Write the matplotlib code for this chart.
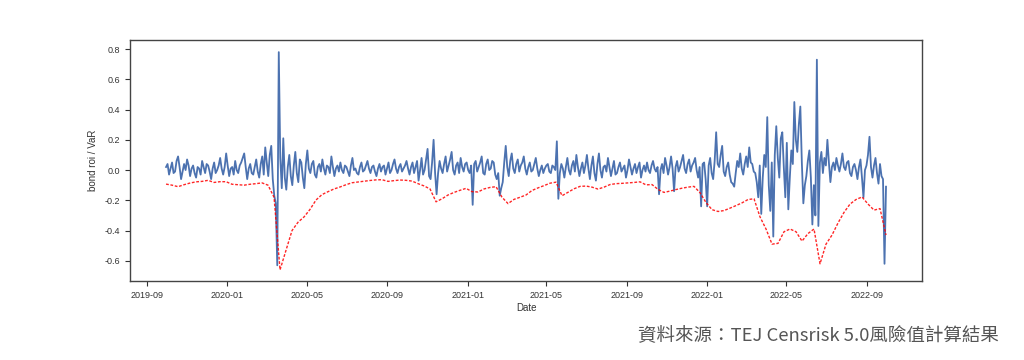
import pandas as pd
import matplotlib
matplotlib.use('Agg')
import matplotlib.pyplot as plt
import matplotlib.dates as mdates

startDate, endDate = '2019-09-30', '2022-09-30'

bondRoi = [
    0.02, 0.04, -0.03, 0.01, 0.05, -0.02, -0.01, 0.06, 0.09, 0.02, -0.06, -0.01, 0.04, 0.00, 0.07, 0.03, -0.04, 0.01, 0.03, -0.02,
    -0.05, 0.02, 0.01, -0.03, 0.06, 0.02, -0.02, 0.04, 0.03, -0.01, -0.06, 0.01, 0.05, -0.02, 0.00, 0.03, 0.08, 0.01, -0.03, 0.02,
    0.11, 0.03, -0.04, 0.01, 0.02, -0.03, 0.06, 0.00, -0.02, 0.03, 0.05, 0.08, 0.11, 0.02, -0.06, 0.01, 0.04, -0.02, -0.03, 0.02,
    0.07, -0.01, -0.05, 0.04, 0.09, -0.03, 0.15, 0.05, -0.04, 0.10, 0.16, -0.06, -0.17, -0.22, -0.63, 0.78, 0.08, -0.12, 0.21, -0.05,
    -0.13, 0.02, 0.10, -0.04, -0.10, 0.03, 0.12, -0.02, -0.08, 0.07, 0.05, -0.05, -0.12, 0.04, 0.13, 0.01, -0.02, 0.04, 0.06, -0.03,
    -0.05, 0.02, 0.04, -0.01, 0.07, 0.01, -0.03, 0.03, 0.02, -0.02, 0.09, 0.02, -0.04, 0.01, 0.03, -0.01, 0.05, 0.00, -0.02, 0.03,
    0.02, -0.01, -0.04, 0.03, 0.08, 0.00, 0.01, -0.02, -0.03, 0.02, 0.05, -0.01, 0.00, 0.03, 0.06, 0.01, -0.02, 0.02, 0.03, -0.01,
    -0.04, 0.01, 0.04, -0.01, 0.02, 0.03, -0.03, 0.01, 0.05, -0.02, 0.00, 0.04, 0.07, 0.01, -0.02, 0.02, 0.04, -0.01, 0.01, 0.03,
    0.06, 0.01, -0.03, 0.02, 0.05, -0.02, 0.02, 0.06, -0.07, 0.00, 0.08, -0.03, 0.00, 0.07, 0.14, -0.04, -0.06, 0.05, 0.20, -0.02,
    -0.16, -0.02, 0.06, 0.01, -0.02, 0.04, 0.09, -0.01, 0.03, 0.07, 0.12, 0.00, -0.03, 0.03, 0.05, -0.02, 0.08, 0.02, -0.01, 0.04,
    0.05, 0.00, -0.02, 0.03, -0.23, 0.04, 0.06, -0.01, 0.02, 0.05, 0.09, -0.02, -0.03, 0.04, 0.07, 0.00, 0.01, 0.06, 0.05, -0.03,
    -0.06, -0.02, -0.17, -0.12, -0.08, 0.05, 0.16, 0.02, -0.04, 0.06, 0.11, 0.01, -0.02, 0.04, 0.07, -0.01, 0.03, 0.05, 0.09, 0.01,
    -0.03, 0.02, 0.05, -0.01, 0.00, 0.04, 0.08, 0.01, -0.04, 0.00, 0.03, -0.02, 0.01, 0.03, 0.04, -0.01, -0.02, 0.03, 0.02, 0.00,
    0.19, -0.19, -0.02, 0.04, 0.01, -0.05, 0.02, 0.08, 0.00, -0.03, 0.03, 0.06, -0.01, 0.10, 0.02, -0.04, 0.01, 0.05, -0.02, 0.03,
    0.10, 0.01, -0.06, 0.03, 0.09, -0.02, -0.07, 0.04, 0.11, 0.00, -0.05, 0.02, 0.03, -0.01, 0.08, 0.02, -0.04, 0.01, 0.06, -0.03,
    -0.02, 0.02, 0.05, -0.01, 0.01, 0.03, -0.05, 0.00, 0.07, 0.02, -0.03, 0.01, 0.04, -0.02, 0.02, 0.05, -0.05, 0.00, 0.03, -0.01,
    0.05, 0.00, -0.02, 0.03, 0.06, 0.01, -0.01, 0.02, -0.16, 0.00, 0.04, -0.02, 0.08, 0.03, -0.03, 0.02, 0.09, 0.01, -0.14, 0.02,
    0.06, -0.01, 0.02, 0.06, 0.10, 0.01, -0.02, 0.04, 0.07, -0.01, 0.03, 0.05, 0.08, 0.00, -0.05, 0.02, -0.24, 0.04, 0.05, -0.06,
    -0.24, 0.03, 0.08, -0.02, -0.06, 0.06, 0.25, 0.04, 0.02, 0.10, 0.16, -0.01, -0.04, 0.02, 0.05, -0.03, -0.08, -0.09, -0.11, -0.02,
    0.06, 0.02, 0.11, 0.01, -0.03, 0.04, 0.09, 0.02, 0.15, 0.05, 0.04, -0.01, -0.02, -0.08, -0.18, 0.03, -0.29, -0.05, 0.10, 0.02,
    0.35, -0.10, -0.27, 0.05, -0.44, 0.10, 0.29, 0.08, -0.05, 0.21, 0.25, 0.02, -0.18, 0.18, -0.26, -0.05, 0.13, 0.04, 0.45, 0.20,
    0.12, 0.30, 0.42, 0.05, -0.22, -0.10, -0.04, 0.06, 0.13, -0.05, -0.36, -0.10, -0.30, 0.73, -0.37, 0.05, 0.12, -0.02, 0.08, 0.03,
    0.20, 0.05, -0.08, 0.02, 0.05, 0.00, 0.08, 0.03, -0.01, 0.04, 0.11, 0.02, 0.00, 0.05, 0.06, -0.02, -0.04, 0.02, 0.04, 0.00,
    -0.06, 0.02, 0.07, -0.05, -0.18, 0.00, 0.03, 0.10, 0.22, 0.02, -0.05, 0.03, 0.08, -0.02, -0.09, 0.04, -0.04, -0.06, -0.62, -0.11,
]

varValues = [
    -0.093, -0.100, -0.110, -0.097, -0.086, -0.078, -0.075, -0.068, -0.082, -0.077,
    -0.077, -0.094, -0.097, -0.100, -0.094, -0.090, -0.085, -0.100, -0.180, -0.660,
    -0.530, -0.400, -0.345, -0.310, -0.260, -0.198, -0.162, -0.143, -0.125, -0.112,
    -0.097, -0.084, -0.079, -0.074, -0.069, -0.065, -0.064, -0.075, -0.070, -0.066,
    -0.068, -0.073, -0.090, -0.105, -0.125, -0.210, -0.190, -0.165, -0.148, -0.134,
    -0.121, -0.143, -0.145, -0.125, -0.115, -0.110, -0.180, -0.222, -0.194, -0.180,
    -0.165, -0.135, -0.118, -0.103, -0.087, -0.080, -0.170, -0.147, -0.124, -0.108,
    -0.106, -0.113, -0.126, -0.113, -0.096, -0.090, -0.088, -0.085, -0.082, -0.078,
    -0.098, -0.096, -0.128, -0.148, -0.139, -0.129, -0.120, -0.113, -0.108, -0.150,
    -0.215, -0.262, -0.274, -0.268, -0.252, -0.235, -0.217, -0.195, -0.190, -0.310,
    -0.390, -0.490, -0.485, -0.408, -0.390, -0.408, -0.470, -0.420, -0.390, -0.620,
    -0.490, -0.430, -0.350, -0.280, -0.225, -0.195, -0.178, -0.225, -0.265, -0.255,
    -0.430,
]

roiDates = pd.date_range(startDate, endDate, periods=len(bondRoi))
varDates = pd.date_range(startDate, endDate, periods=len(varValues))

plt.rcParams['font.family'] = ['Liberation Sans', 'DejaVu Sans']
plt.rcParams['axes.unicode_minus'] = False

fig = plt.figure(figsize=(10.24, 3.6), dpi=100)
ax = fig.add_axes([0.127, 0.2194, 0.7734, 0.6694])

ax.plot(roiDates, bondRoi, color='#4c72b0', linewidth=1.3)
ax.plot(varDates, varValues, color='red', linestyle='--', linewidth=1.0, dashes=(2, 1.2), alpha=0.85)

ax.set_ylim(-0.734, 0.86)
ax.set_yticks([-0.6, -0.4, -0.2, 0.0, 0.2, 0.4, 0.6, 0.8])
ax.xaxis.set_major_locator(mdates.MonthLocator(bymonth=[1, 5, 9]))
ax.xaxis.set_major_formatter(mdates.DateFormatter('%Y-%m'))

ax.tick_params(labelsize=6.5, colors='#333333', length=3.5, width=0.8)
for s in ax.spines.values():
    s.set_color('#444444')
    s.set_linewidth(1.0)

ax.set_xlabel('Date', fontsize=7, color='#333333', labelpad=2)
ax.set_ylabel('bond roi / VaR', fontsize=7, color='#333333', labelpad=5)

fig.text(0.975, 0.07, '資料來源：TEJ Censrisk 5.0風險值計算結果', ha='right', va='center',
         fontsize=13.3, color='#555555', family=['Noto Sans CJK TC', 'DejaVu Sans'])

fig.savefig('out.png', dpi=100)
